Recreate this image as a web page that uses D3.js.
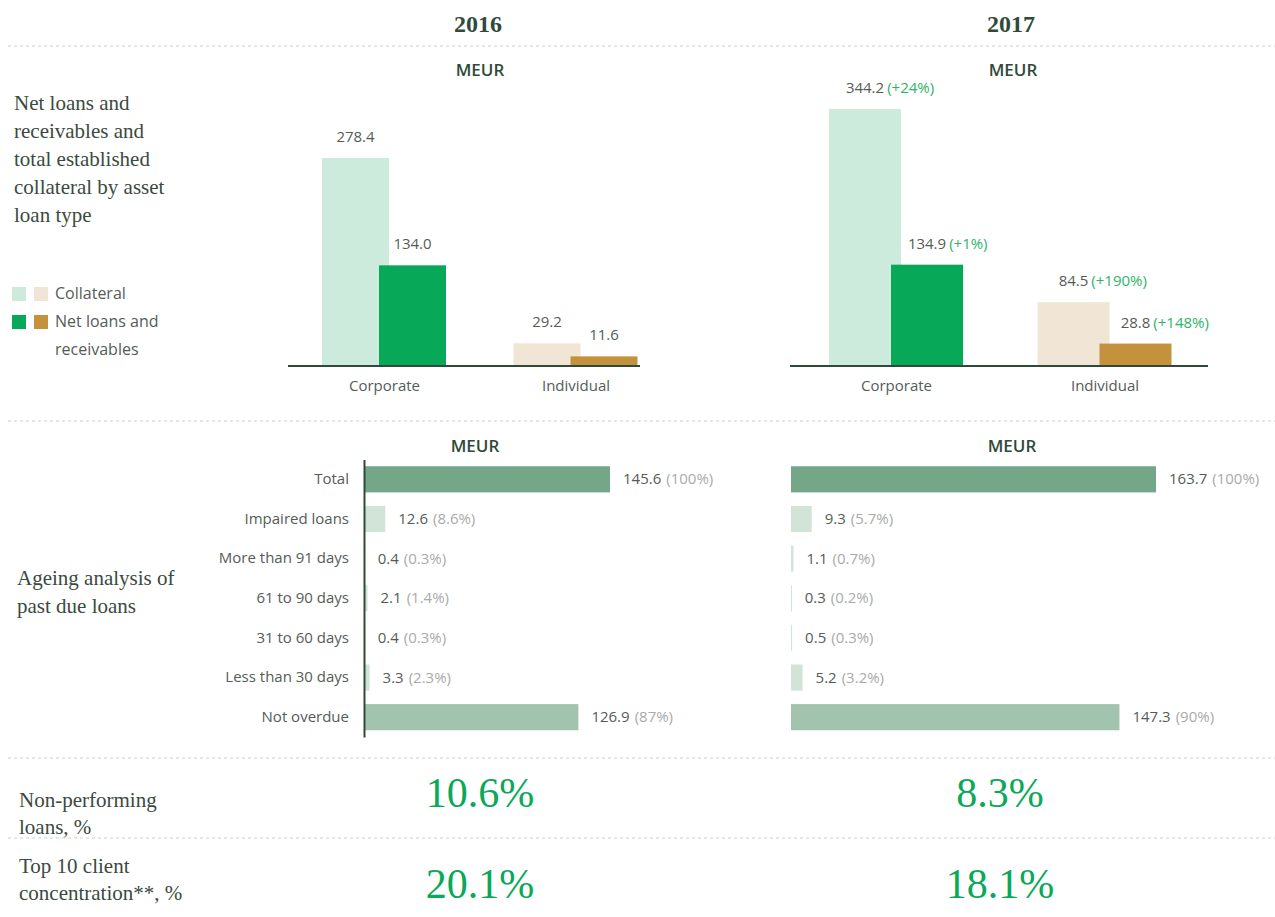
<!DOCTYPE html>
<html>
<head>
<meta charset="utf-8">
<script src="https://cdn.jsdelivr.net/npm/d3@7"></script>
<style>
  body { margin: 0; background: #fff; }
  text { font-family: "Open Sans", sans-serif; }
  .serif { font-family: "Liberation Serif", "DejaVu Serif", serif; }
</style>
</head>
<body>
<div id="chart"></div>
<script>
// data
var years = ["2016", "2017"];
var loanTypes = ["Corporate", "Individual"];
var collateral2016 = [278.4, 29.2];
var netLoans2016 = [134.0, 11.6];
var collateral2017 = [344.2, 84.5];
var netLoans2017 = [134.9, 28.8];
var collateralChange2017 = ["(+24%)", "(+190%)"];
var netLoansChange2017 = ["(+1%)", "(+148%)"];

var ageingCategories = ["Total", "Impaired loans", "More than 91 days", "61 to 90 days",
    "31 to 60 days", "Less than 30 days", "Not overdue"];
var ageing2016 = [145.6, 12.6, 0.4, 2.1, 0.4, 3.3, 126.9];
var ageingShare2016 = ["(100%)", "(8.6%)", "(0.3%)", "(1.4%)", "(0.3%)", "(2.3%)", "(87%)"];
var ageing2017 = [163.7, 9.3, 1.1, 0.3, 0.5, 5.2, 147.3];
var ageingShare2017 = ["(100%)", "(5.7%)", "(0.7%)", "(0.2%)", "(0.3%)", "(3.2%)", "(90%)"];

var nplRatio = [10.6, 8.3];
var top10Concentration = [20.1, 18.1];

var dark = "#2f4a3a";
var grey = "#555c58";
var lightGrey = "#aaaaaa";
var green = "#2db567";

var svg = d3.select("#chart").append("svg")
    .attr("width", 1275)
    .attr("height", 917);

// dotted separators
[46, 421, 758, 838].forEach(function (y) {
    svg.append("line")
        .attr("x1", 8).attr("x2", 1275)
        .attr("y1", y).attr("y2", y)
        .attr("stroke", "#cfcfcf")
        .attr("stroke-dasharray", "3,3");
});

// year headers
var colCenter = [478, 1011];
years.forEach(function (yr, i) {
    svg.append("text")
        .attr("class", "serif")
        .attr("x", colCenter[i]).attr("y", 32)
        .attr("text-anchor", "middle")
        .attr("font-size", 24).attr("font-weight", "bold")
        .attr("fill", dark)
        .text(yr);
    svg.append("text")
        .attr("x", colCenter[i] + 2).attr("y", 76)
        .attr("text-anchor", "middle")
        .attr("font-size", 17).attr("font-weight", 600)
        .attr("fill", dark)
        .text("MEUR");
    svg.append("text")
        .attr("x", colCenter[i] + (i ? 1 : -3)).attr("y", 452)
        .attr("text-anchor", "middle")
        .attr("font-size", 17).attr("font-weight", 600)
        .attr("fill", dark)
        .text("MEUR");
});

// left row titles
function multiline(lines, x, y0, step, size) {
    lines.forEach(function (l, i) {
        svg.append("text")
            .attr("class", "serif")
            .attr("x", x).attr("y", y0 + i * step)
            .attr("font-size", size)
            .attr("fill", "#3b4a40")
            .text(l);
    });
}
multiline(["Net loans and", "receivables and", "total established", "collateral by asset", "loan type"], 14, 110, 28, 21);
multiline(["Ageing analysis of", "past due loans"], 17, 585, 28, 21);
multiline(["Non-performing", "loans, %"], 19, 807, 27, 21);
multiline(["Top 10 client", "concentration**, %"], 19, 873, 27, 21);

// legend
var legendRows = [
    { label: ["Collateral"], colors: ["#cdebdc", "#f1e6d6"], y: 287 },
    { label: ["Net loans and", "receivables"], colors: ["#07a857", "#c4913d"], y: 315 }
];
legendRows.forEach(function (r) {
    r.colors.forEach(function (c, j) {
        svg.append("rect")
            .attr("x", 12 + j * 22).attr("y", r.y)
            .attr("width", 14).attr("height", 14)
            .attr("fill", c);
    });
    r.label.forEach(function (l, j) {
        svg.append("text")
            .attr("x", 55).attr("y", r.y + 12 + j * 28)
            .attr("font-size", 16)
            .attr("fill", grey)
            .text(l);
    });
});

// ---- top grouped bars ----
var y = d3.scaleLinear()
    .domain([0, d3.max(collateral2017)])
    .range([365, 109]);

var topPanels = [
    { coll: collateral2016, net: netLoans2016, range: [384, 575.5], axis: [288, 640], bw: 67, collOff: -62, netOff: -5 },
    { coll: collateral2017, net: netLoans2017, range: [896, 1104.5], axis: [790, 1208], bw: 72, collOff: -67, netOff: -5,
      collChg: collateralChange2017, netChg: netLoansChange2017 }
];
var collColors = ["#cdebdc", "#f1e6d6"];
var netColors = ["#07a857", "#c4913d"];

topPanels.forEach(function (p) {
    var x = d3.scalePoint().domain(loanTypes).range(p.range);
    var g = svg.append("g");

    function addBars(values, off, colors, changes) {
        var data = loanTypes.map(function (t, i) { return { type: t, v: values[i], i: i }; });
        g.selectAll(null).data(data).enter().append("rect")
            .attr("x", function (d) { return x(d.type) + off; })
            .attr("y", function (d) { return y(d.v); })
            .attr("width", p.bw)
            .attr("height", function (d) { return y(0) - y(d.v); })
            .attr("fill", function (d) { return colors[d.i]; });
        var lbl = g.selectAll(null).data(data).enter().append("text")
            .attr("x", function (d) { return x(d.type) + off + p.bw / 2; })
            .attr("y", function (d) { return y(d.v) - 16; })
            .attr("font-size", 15)
            .attr("fill", grey);
        lbl.append("tspan").text(function (d) { return d.v.toFixed(1); });
        if (changes) {
            // number centred on the bar, change appended to its right
            lbl.each(function (d) {
                var t = d3.select(this);
                var w = this.getComputedTextLength();
                t.attr("x", x(d.type) + off + p.bw / 2 - w / 2);
                t.append("tspan").attr("dx", 3).attr("fill", green).text(changes[d.i]);
            });
        } else {
            lbl.attr("text-anchor", "middle");
        }
    }
    addBars(p.coll, p.collOff, collColors, p.collChg);
    addBars(p.net, p.netOff, netColors, p.netChg);

    g.append("line")
        .attr("x1", p.axis[0]).attr("x2", p.axis[1])
        .attr("y1", y(0) + 1).attr("y2", y(0) + 1)
        .attr("stroke", dark).attr("stroke-width", 2);

    var xAxis = d3.axisBottom(x).tickSize(0).tickPadding(14);
    var ax = g.append("g")
        .attr("transform", "translate(0," + (y(0) + 1) + ")")
        .call(xAxis);
    ax.select(".domain").remove();
    ax.selectAll("text").attr("font-size", 15).attr("fill", grey)
        .attr("font-family", "Open Sans, sans-serif");
});

// ---- ageing horizontal bars ----
var yBand = d3.scaleBand()
    .domain(ageingCategories)
    .range([459.5, 737])
    .paddingInner(0.34)
    .paddingOuter(0.17);

var ageColors = ["#74a688", "#d2e3d8", "#d2e3d8", "#d2e3d8", "#d2e3d8", "#d2e3d8", "#a2c4ae"];

var agePanels = [
    { values: ageing2016, shares: ageingShare2016, x0: 364, width: 246, axis: true },
    { values: ageing2017, shares: ageingShare2017, x0: 791, width: 365, axis: false }
];

agePanels.forEach(function (p) {
    var x = d3.scaleLinear()
        .domain([0, d3.max(p.values)])
        .range([p.x0, p.x0 + p.width]);
    var data = ageingCategories.map(function (c, i) {
        return { cat: c, v: p.values[i], share: p.shares[i], i: i };
    });
    var g = svg.append("g");
    g.selectAll(null).data(data).enter().append("rect")
        .attr("x", x(0))
        .attr("y", function (d) { return yBand(d.cat); })
        .attr("width", function (d) { return Math.max(1, x(d.v) - x(0)); })
        .attr("height", yBand.bandwidth())
        .attr("fill", function (d) { return ageColors[d.i]; });

    var lbl = g.selectAll(null).data(data).enter().append("text")
        .attr("x", function (d) { return x(d.v) + 13; })
        .attr("y", function (d) { return yBand(d.cat) + yBand.bandwidth() / 2 + 5; })
        .attr("font-size", 15)
        .attr("fill", grey);
    lbl.append("tspan").text(function (d) { return d.v.toFixed(1); });
    lbl.append("tspan").attr("dx", 5).attr("fill", lightGrey).text(function (d) { return d.share; });

    if (p.axis) {
        var yAxis = d3.axisLeft(yBand).tickSize(0).tickPadding(15);
        var ax = g.append("g")
            .attr("transform", "translate(" + p.x0 + ",0)")
            .call(yAxis);
        ax.select(".domain").attr("stroke", dark).attr("stroke-width", 2);
        ax.selectAll("text").attr("font-size", 15).attr("fill", grey)
            .attr("font-family", "Open Sans, sans-serif");
    }
});

// ---- big ratios ----
var bigCenters = [480, 1000];
[{ vals: nplRatio, y: 807 }, { vals: top10Concentration, y: 898 }].forEach(function (r) {
    r.vals.forEach(function (v, i) {
        svg.append("text")
            .attr("class", "serif")
            .attr("x", bigCenters[i]).attr("y", r.y)
            .attr("text-anchor", "middle")
            .attr("font-size", 42)
            .attr("fill", "#0aa858")
            .text(v.toFixed(1) + "%");
    });
});
</script>
</body>
</html>
